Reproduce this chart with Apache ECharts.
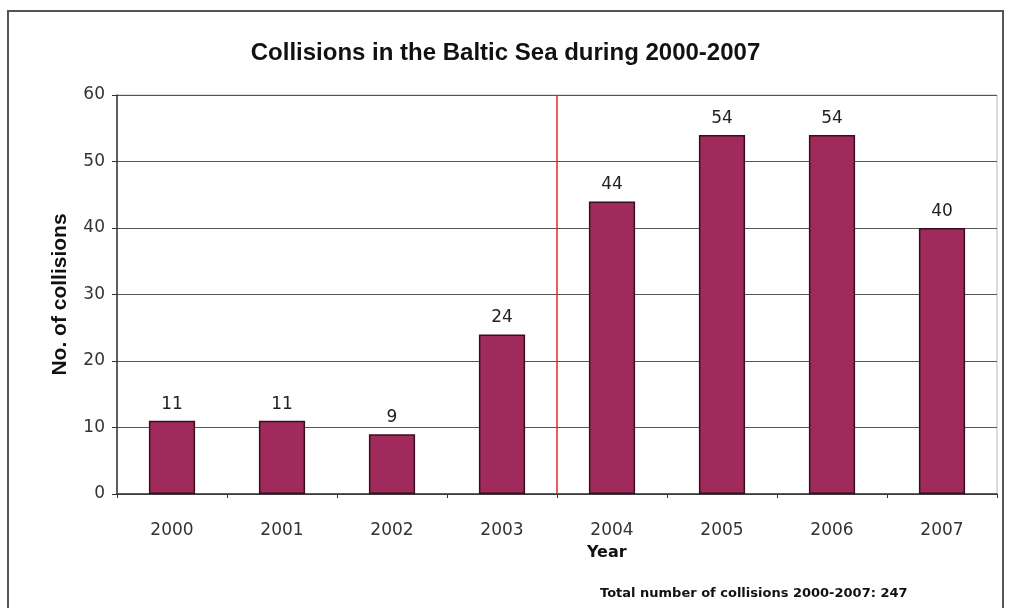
<!DOCTYPE html>
<html><head><meta charset="utf-8">
<script src="https://cdn.jsdelivr.net/npm/echarts@6/dist/echarts.min.js"></script>
<style>html,body{margin:0;padding:0;background:#fff}#c{width:1011px;height:608px}</style>
</head><body><div id="c"></div>
<script>
const years = ['2000','2001','2002','2003','2004','2005','2006','2007'];
const collisions = [11, 11, 9, 24, 44, 54, 54, 40];
const yTicks = [0, 10, 20, 30, 40, 50, 60];
const dividerPosition = [4];
const totalText = 'Total number of collisions 2000-2007: 247';

const chart = echarts.init(document.getElementById('c'));
const font = 'Liberation Sans, Arial, sans-serif';
const vfont = 'DejaVu Sans, Verdana, sans-serif';
chart.setOption({
  backgroundColor: '#fff',
  animation: false,
  title: [
    {text: 'Collisions in the Baltic Sea during 2000-2007', left: 'center', top: 36,
     textStyle: {fontFamily: font, fontSize: 24, fontWeight: 'bold', color: '#111'}},
    {text: totalText, left: 595, top: 582,
     textStyle: {fontFamily: vfont, fontSize: 13, fontWeight: 'bold', color: '#111'}},
    {text: 'Year', left: 582, top: 540,
     textStyle: {fontFamily: vfont, fontSize: 16, fontWeight: 'bold', color: '#111'}}
  ],
  graphic: [
    {type: 'rect', shape: {x: 8, y: 11, width: 995, height: 610},
     style: {fill: 'none', stroke: '#555', lineWidth: 2}, silent: true}
  ],
  grid: {left: 117, right: 14, top: 95, bottom: 114, show: true, borderColor: '#bbb', borderWidth: 1},
  xAxis: [
    {type: 'category', data: years,
     axisLine: {lineStyle: {color: '#333', width: 1.5}},
     axisTick: {show: true, alignWithLabel: false, length: 4, lineStyle: {color: '#333'}},
     axisLabel: {fontFamily: vfont, fontSize: 17, color: '#333', margin: 28}},
    {type: 'value', min: 0, max: 8, show: false}
  ],
  yAxis: {
    type: 'value', min: 0, max: 60, interval: 10,
    name: 'No. of collisions', nameLocation: 'middle', nameGap: 46, nameRotate: 90,
    nameTextStyle: {fontFamily: font, fontSize: 21, fontWeight: 'bold', color: '#111'},
    axisLine: {show: true, lineStyle: {color: '#333', width: 1.5}},
    axisTick: {show: true, length: 5, lineStyle: {color: '#333'}},
    axisLabel: {fontFamily: vfont, fontSize: 17, color: '#333', margin: 12},
    splitLine: {lineStyle: {color: '#555', width: 1}}
  },
  series: [
    {type: 'bar', data: collisions, barWidth: '42%', xAxisIndex: 0,
     itemStyle: {color: '#a02a5c', borderColor: '#3a0d1e', borderWidth: 1.5},
     label: {show: true, position: 'top', distance: 8, fontFamily: vfont, fontSize: 17, color: '#222'}},
    {type: 'line', xAxisIndex: 1, data: [],
     markLine: {silent: true, symbol: 'none', label: {show: false},
       lineStyle: {color: '#e0252a', width: 1.5, type: 'solid'},
       data: dividerPosition.map(v => ({xAxis: v}))}}
  ]
});
</script></body></html>
